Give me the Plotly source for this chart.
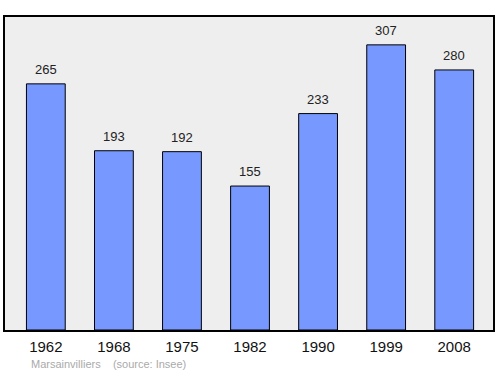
import plotly.graph_objects as go

years = ["1962", "1968", "1975", "1982", "1990", "1999", "2008"]
population = [265, 193, 192, 155, 233, 307, 280]

xpos = list(range(len(years)))

fig = go.Figure()
fig.add_trace(go.Bar(
    x=xpos, y=population, width=0.57,
    marker=dict(color="#7799ff", line=dict(color="black", width=1)),
    hoverinfo="skip",
))

for xp, v in zip(xpos, population):
    fig.add_annotation(x=xp, y=v, text=str(v), showarrow=False, yanchor="bottom",
                       yshift=5, font=dict(size=13, color="#222", family="Liberation Sans, Arial"))

fig.add_annotation(xref="paper", yref="paper", x=0.05, y=-0.11, xanchor="left", yanchor="middle",
                   text="Marsainvilliers&nbsp;&nbsp;&nbsp;&nbsp;(source: Insee)", showarrow=False,
                   font=dict(size=11, color="#aaaaaa", family="Liberation Sans, Arial"))

fig.update_layout(
    width=500, height=374,
    margin=dict(l=5, r=5, t=17, b=44),
    paper_bgcolor="white", plot_bgcolor="#eeeeee",
    showlegend=False,
    xaxis=dict(range=[-0.6, 6.57], tickvals=xpos, ticktext=years, showgrid=False, zeroline=False,
               showline=True, mirror=True, linecolor="black", linewidth=1.5, ticks="",
               ticklabelstandoff=2,
               tickfont=dict(size=15, color="#111", family="Liberation Sans, Arial"), fixedrange=True),
    yaxis=dict(range=[0, 337], showgrid=False, zeroline=False, showticklabels=False,
               showline=True, mirror=True, linecolor="black", linewidth=1.5, ticks="", fixedrange=True),
)

fig.write_html("out.html")
